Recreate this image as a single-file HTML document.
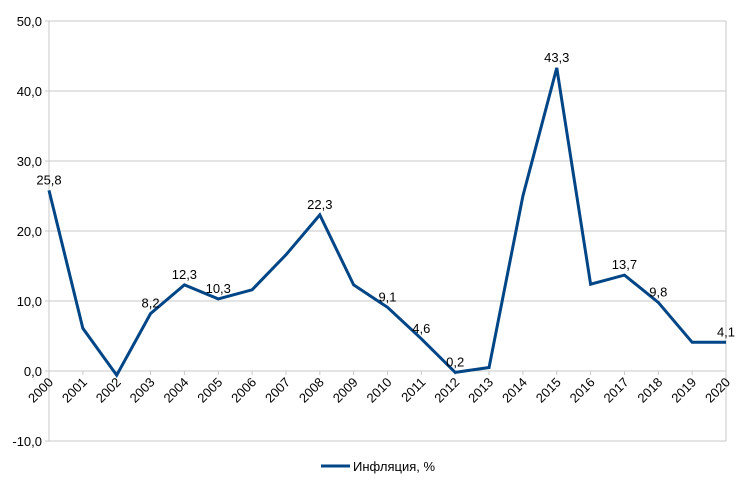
<!DOCTYPE html>
<html><head><meta charset="utf-8"><style>
body{margin:0;background:#fff;font-family:"Liberation Sans",sans-serif}
</style></head><body>
<svg id="chart" width="740" height="485" xmlns="http://www.w3.org/2000/svg" style="font-family:'Liberation Sans',sans-serif"></svg>
<script>
const years=["2000","2001","2002","2003","2004","2005","2006","2007","2008","2009","2010","2011","2012","2013","2014","2015","2016","2017","2018","2019","2020"];
const inflation=[25.8,6.1,-0.6,8.2,12.3,10.3,11.6,16.6,22.3,12.3,9.1,4.6,-0.2,0.5,25.0,43.3,12.4,13.7,9.8,4.1,4.1];
const pointLabels=["25,8","","","8,2","12,3","10,3","","","22,3","","9,1","4,6","0,2","","","43,3","","13,7","9,8","","4,1"];
const yTicks=[-10,0,10,20,30,40,50];
const yTickLabels=["-10,0","0,0","10,0","20,0","30,0","40,0","50,0"];
const svg=document.getElementById('chart');
const NS="http://www.w3.org/2000/svg";
const X0=49,X1=726,Y0=441,Y1=21,VMIN=-10,VMAX=50;
const x=i=>X0+(X1-X0)*i/(years.length-1);
const y=v=>Y0-(v-VMIN)/(VMAX-VMIN)*(Y0-Y1);
function mk(t,a,p){const e=document.createElementNS(NS,t);for(const k in a)e.setAttribute(k,a[k]);(p||svg).appendChild(e);return e;}
yTicks.forEach((t,i)=>{
 const g=mk('line',{x1:X0-4,x2:X1,y1:y(t),y2:y(t),stroke:'#c8c8c8','stroke-width':1});
 
 
 const tx=mk('text',{x:X0-7,y:y(t)+5,'text-anchor':'end','font-size':13,fill:'#000'});
 tx.textContent=yTickLabels[i];
 
 
});
const ax=mk('line',{x1:X0,x2:X0,y1:Y1,y2:Y0,stroke:'#c8c8c8'});


const rb=mk('line',{x1:X1,x2:X1,y1:Y1,y2:Y0,stroke:'#c8c8c8'});


years.forEach((yr,i)=>{
 const tk=mk('line',{x1:x(i),x2:x(i),y1:y(0),y2:y(0)+4,stroke:'#c8c8c8'});
 
 
 const tx=mk('text',{x:0,y:0,'text-anchor':'end','font-size':13,fill:'#000',transform:`translate(${x(i)+5},${y(0)+12}) rotate(-45)`});
 tx.textContent=yr;
 
 
});
const pts=inflation.map((v,i)=>x(i)+','+y(v)).join(' ');
const ln=mk('polyline',{points:pts,fill:'none',stroke:'#004586','stroke-width':3,'stroke-linejoin':'miter'});


inflation.forEach((v,i)=>{
 if(!pointLabels[i])return;
 const tx=mk('text',{x:x(i),y:y(v)-6,'text-anchor':'middle','font-size':13,fill:'#000'});
 tx.textContent=pointLabels[i];
 
 
});
const lg=mk('g',{});


mk('line',{x1:321,x2:350,y1:466,y2:466,stroke:'#004586','stroke-width':3},lg);
const lt=mk('text',{x:353,y:471,'font-size':13,fill:'#000'},lg);
lt.textContent='Инфляция, %';


</script>
</body></html>
